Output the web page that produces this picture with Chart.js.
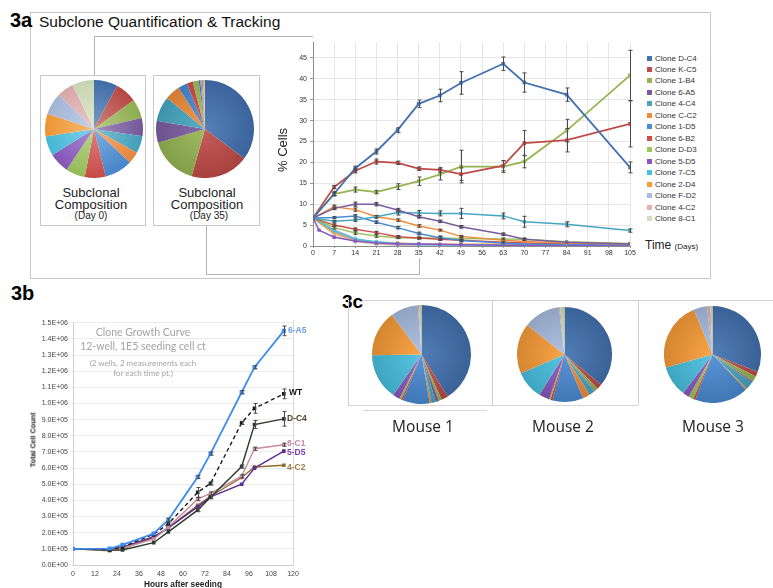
<!DOCTYPE html>
<html>
<head>
<meta charset="utf-8">
<script src="https://cdn.jsdelivr.net/npm/chart.js@4.4.1/dist/chart.umd.min.js"></script>
<style>
  body { margin: 0; background: #fff; font-family: "Liberation Sans", Arial, sans-serif; }
  #page { position: relative; width: 773px; height: 588px; overflow: hidden; background: #fff; }
  .t { position: absolute; line-height: 1; white-space: nowrap; color: #222; }
  .c { transform: translateX(-50%); }
  .ln { position: absolute; background: #b4b4b4; }
  .box { position: absolute; border: 1px solid #c8c8c8; box-sizing: border-box; }
  canvas { position: absolute; }
  .lg { position: absolute; font-size: 8px; line-height: 1; color: #333; white-space: nowrap; }
  .lg i { position: absolute; left: -8px; top: 1px; width: 5px; height: 5px; }
  .glab { position: absolute; font-weight: bold; font-size: 8.5px; line-height: 1; white-space: nowrap; }
  .gt { position: absolute; font-family: Lato, sans-serif; color: #a4a4a4; line-height: 1; white-space: nowrap; transform: translateX(-50%); }
</style>
</head>
<body>
<div id="page">
  <!-- 3a frame -->
  <div class="box" style="left:30px;top:12px;width:681px;height:267px;"></div>
  <div class="t" style="left:10px;top:10px;font-size:20px;font-weight:bold;color:#000;">3a</div>
  <div class="t" style="left:39px;top:14px;font-size:15.5px;color:#111;">Subclone Quantification &amp; Tracking</div>

  <!-- connectors -->
  <div class="ln" style="left:94px;top:36px;width:1px;height:39px;"></div>
  <div class="ln" style="left:94px;top:36px;width:219px;height:1px;"></div>
  <div class="ln" style="left:206px;top:225px;width:1px;height:50px;"></div>
  <div class="ln" style="left:206px;top:274px;width:214px;height:1px;"></div>
  <div class="ln" style="left:419px;top:258px;width:1px;height:17px;"></div>

  <div class="box" style="left:40px;top:75px;width:106px;height:151px;"></div>
  <div class="box" style="left:153px;top:75px;width:107px;height:151px;"></div>
  <canvas id="pieDay0" width="98" height="98" style="left:45px;top:80px;"></canvas>
  <canvas id="pieDay35" width="98" height="98" style="left:156px;top:80px;"></canvas>
  <div class="t c" style="left:91px;top:186px;font-size:13px;">Subclonal</div>
  <div class="t c" style="left:91px;top:198px;font-size:13px;">Composition</div>
  <div class="t c" style="left:91px;top:211px;font-size:10px;">(Day 0)</div>
  <div class="t c" style="left:207px;top:186px;font-size:13px;">Subclonal</div>
  <div class="t c" style="left:207px;top:198px;font-size:13px;">Composition</div>
  <div class="t c" style="left:209px;top:211px;font-size:10px;">(Day 35)</div>

  <canvas id="trackChart" width="370" height="225" style="left:270px;top:37px;"></canvas>
  <div class="t" style="left:282px;top:150px;font-size:13px;transform:translate(-50%,-50%) rotate(-90deg);">% Cells</div>
  <div class="t" style="left:645px;top:239px;font-size:12px;">Time <span style="font-size:8px;">(Days)</span></div>
  <div id="legend3a"></div>

  <!-- 3b -->
  <div class="t" style="left:11px;top:283px;font-size:20px;font-weight:bold;color:#000;">3b</div>
  <div class="ln" style="left:293px;top:320px;width:1px;height:245px;background:#d8d8d8;"></div>
  <canvas id="growthChart" width="281" height="262" style="left:20px;top:317px;"></canvas>
  <div class="t" style="left:33px;top:440px;font-size:7.2px;font-weight:bold;transform:translate(-50%,-50%) rotate(-90deg);">Total Cell Count</div>
  <div class="t c" style="left:183px;top:580px;font-size:8.3px;font-weight:bold;">Hours after seeding</div>
  <div class="gt" style="left:143px;top:327px;font-size:10.5px;">Clone Growth Curve</div>
  <div class="gt" style="left:143px;top:341px;font-size:10.5px;">12-well, 1E5 seeding cell ct</div>
  <div class="gt" style="left:143px;top:359px;font-size:8px;">(2 wells, 2 measurements each</div>
  <div class="gt" style="left:143px;top:369px;font-size:8px;">for each time pt.)</div>
  <div class="glab" style="left:288px;top:326px;color:#6b9fdc;">6-A5</div>
  <div class="glab" style="left:289px;top:388px;color:#111;">WT</div>
  <div class="glab" style="left:287px;top:414px;color:#4d3f2f;">D-C4</div>
  <div class="glab" style="left:287px;top:439px;color:#c78aa5;">8-C1</div>
  <div class="glab" style="left:287px;top:448px;color:#7b3fa8;">5-D5</div>
  <div class="glab" style="left:287px;top:463px;color:#9c7e45;">4-C2</div>

  <!-- 3c -->
  <div class="t" style="left:342px;top:292px;font-size:19px;font-weight:bold;color:#000;">3c</div>
  <div class="ln" style="left:363px;top:300px;width:410px;height:1px;background:#cfcfcf;"></div>
  <div class="ln" style="left:348px;top:300px;width:1px;height:105px;background:#cfcfcf;"></div>
  <div class="ln" style="left:348px;top:405px;width:290px;height:1px;background:#d6d6d6;"></div>
  <div class="ln" style="left:363px;top:410px;width:124px;height:1px;background:#d6d6d6;"></div>
  <div class="ln" style="left:492px;top:300px;width:1px;height:105px;background:#cfcfcf;"></div>
  <div class="ln" style="left:638px;top:300px;width:1px;height:105px;background:#cfcfcf;"></div>
  <canvas id="pieMouse1" width="99" height="99" style="left:372px;top:305px;"></canvas>
  <canvas id="pieMouse2" width="95" height="95" style="left:517px;top:307px;"></canvas>
  <canvas id="pieMouse3" width="97" height="97" style="left:664px;top:306px;"></canvas>
  <div class="t c" style="left:423px;top:419px;font-size:15.5px;font-family:'Open Sans',sans-serif;color:#222;">Mouse 1</div>
  <div class="t c" style="left:563px;top:419px;font-size:15.5px;font-family:'Open Sans',sans-serif;color:#222;">Mouse 2</div>
  <div class="t c" style="left:713px;top:419px;font-size:15.5px;font-family:'Open Sans',sans-serif;color:#222;">Mouse 3</div>
</div>

<script>
Chart.defaults.font.family = '"Liberation Sans", Arial, sans-serif';
Chart.defaults.animation = false;

// --- clone names and colours (3a / 3c) ---
const clones = ['Clone D-C4', 'Clone K-C5', 'Clone 1-B4', 'Clone 6-A5', 'Clone 4-C4', 'Clone C-C2', 'Clone 1-D5',
  'Clone 6-B2', 'Clone D-D3', 'Clone 5-D5', 'Clone 7-C5', 'Clone 2-D4', 'Clone F-D2', 'Clone 4-C2', 'Clone 8-C1'];
const cloneColors = ['#4272b0', '#bf4b48', '#94b552', '#7a5ca0', '#45a7c2', '#f08c3c', '#4a8bd4',
  '#d04e4a', '#9cc45c', '#8a58c0', '#48c0df', '#f89c38', '#a8bde0', '#e2b0b0', '#d2dfba'];

// --- 3a time course (% cells) ---
const days = [0, 7, 14, 21, 28, 35, 42, 49, 63, 70, 84, 105];
const days5D5 = [0, 2, 7, 14, 21, 28, 35, 42, 49, 63, 70, 84, 105];
const pctDC4 = [6.7, 12.5, 18.6, 22.6, 27.7, 34.0, 36.0, 39.0, 43.6, 39.1, 36.2, 18.8];
const pctKC5 = [6.7, 14.1, 18.0, 20.2, 19.9, 18.5, 18.2, 17.2, 19.2, 24.6, 25.3, 29.2];
const pct1B4 = [6.7, 12.4, 13.5, 12.9, 14.2, 15.5, 17.1, 19.0, 19.0, 20.2, 27.6, 40.8];
const pct6A5 = [6.7, 9.0, 10.0, 10.0, 8.6, 7.0, 5.9, 4.6, 2.8, 1.6, 0.9, 0.5];
const pct4C4 = [6.7, 5.9, 6.2, 7.0, 8.0, 7.9, 7.8, 7.8, 7.2, 5.8, 5.2, 3.7];
const pctCC2 = [6.7, 9.4, 8.7, 7.0, 6.2, 4.8, 3.8, 2.3, 1.4, 1.1, 0.7, 0.5];
const pct1D5 = [6.7, 6.8, 7.2, 5.7, 4.4, 3.0, 2.0, 1.3, 0.7, 0.5, 0.4, 0.3];
const pct6B2 = [6.7, 5.0, 4.0, 3.2, 2.2, 1.9, 1.6, 1.4, 0.9, 0.7, 0.5, 0.4];
const pctDD3 = [6.7, 4.4, 3.1, 2.4, 2.0, 1.9, 1.9, 1.8, 1.7, 1.6, 1.0, 0.6];
const pct5D5 = [6.7, 3.8, 2.1, 1.2, 0.7, 0.5, 0.5, 0.4, 0.3, 0.2, 0.2, 0.2, 0.2];
const pct7C5 = [6.7, 3.6, 1.6, 1.0, 0.6, 0.4, 0.3, 0.3, 0.2, 0.2, 0.2, 0.2];
const pct2D4 = [6.7, 3.3, 1.5, 0.9, 0.7, 0.5, 0.4, 0.4, 0.4, 0.3, 0.3, 0.3];
const pctFD2 = [6.7, 3.9, 1.8, 0.8, 0.5, 0.3, 0.2, 0.2, 0.1, 0.1, 0.1, 0.1];
const pct4C2 = [6.7, 3.0, 1.3, 0.6, 0.3, 0.2, 0.2, 0.1, 0.1, 0.1, 0.1, 0.1];
const pct8C1 = [6.7, 2.6, 1.0, 0.4, 0.2, 0.1, 0.1, 0.1, 0.1, 0.1, 0.1, 0.1];

// error bar half-widths
const errDC4 = [0, 0.5, 0.5, 0.6, 0.6, 0.9, 1.5, 2.7, 1.6, 2.3, 1.6, 1.3];
const errKC5 = [0, 0.4, 0.5, 0.6, 0.4, 0.4, 0.6, 1.5, 1.2, 3.0, 2.8, 5.5];
const err1B4 = [0, 0.4, 0.6, 0.4, 0.7, 1.0, 1.3, 3.9, 1.4, 1.5, 2.7, 6.0];
const err6A5 = [0, 0.3, 0.5, 0.4, 0.4, 0.3, 0.3, 0.3, 0.3, 0.3, 0, 0];
const err4C4 = [0, 0.2, 0.3, 0.3, 0.6, 0.6, 0.6, 1.2, 0.7, 1.3, 0.6, 0.4];
const errCC2 = [0, 0.4, 0.4, 0.3, 0.3, 0.3, 0.2, 0.2, 0, 0, 0, 0];
const err1D5 = [0, 0.2, 0.3, 0.3, 0.3, 0.3, 0.3, 0.3, 0, 0, 0, 0];
const err6B2 = [0, 0.3, 0.3, 0.3, 0.3, 0.2, 0.2, 0.2, 0.2, 0, 0, 0];
const errDD3 = [0, 0.3, 0.3, 0.3, 0.2, 0.2, 0.5, 0.4, 0.2, 0.2, 0, 0];

const pctSeries = [pctDC4, pctKC5, pct1B4, pct6A5, pct4C4, pctCC2, pct1D5, pct6B2, pctDD3, pct5D5, pct7C5, pct2D4, pctFD2, pct4C2, pct8C1];
const errSeries = [errDC4, errKC5, err1B4, err6A5, err4C4, errCC2, err1D5, err6B2, errDD3, null, null, null, null, null, null];
const daySeries = pctSeries.map((s, i) => i === 9 ? days5D5 : days);

// Day 0 composition (%)
const compDay0 = [7.8, 7.2, 6.4, 6.0, 5.7, 3.9, 9.2, 6.9, 6.4, 6.7, 6.4, 7.5, 7.2, 5.6, 7.2];
// Day 35 composition comes from the time course
const compDay35 = pctSeries.map((s, i) => s[daySeries[i].indexOf(35)]);

// --- 3c mouse compositions (%) ---
const compMouse1 = [41.0, 2.2, 1.0, 1.0, 1.4, 0.6, 8.8, 0.6, 0.6, 2.3, 15.0, 15.0, 9.0, 0.4, 0.8];
const compMouse2 = [36.3, 1.8, 1.2, 0.3, 1.9, 2.5, 10.5, 0.8, 0.5, 3.6, 9.8, 17.2, 12.6, 0.4, 1.5];
const compMouse3 = [30.8, 1.7, 1.9, 0.5, 2.5, 0.5, 17.8, 0.8, 1.6, 2.2, 10.3, 23.0, 4.5, 1.1, 0.7];

// --- 3b growth curve ---
const hours = [0, 20, 27, 44, 52, 68, 75, 92, 99, 115];
const growthNames = ['6-A5', 'WT', 'D-C4', '8-C1', '5-D5', '4-C2'];
const growthColors = ['#3d8cef', '#1a1a1a', '#2c3a2c', '#c68c9f', '#5c2d90', '#8f6d2e'];
const cnt6A5 = [1.0e5, 1.02e5, 1.25e5, 1.95e5, 2.8e5, 5.45e5, 6.9e5, 10.7e5, 12.25e5, 14.5e5];
const cntWT = [1.0e5, 0.95e5, 1.12e5, 1.9e5, 2.55e5, 4.5e5, 5.05e5, 8.8e5, 9.7e5, 10.6e5];
const cntDC4 = [1.0e5, 0.92e5, 0.93e5, 1.38e5, 2.05e5, 3.4e5, 4.2e5, 6.1e5, 8.7e5, 9.05e5];
const cnt8C1 = [1.0e5, 0.93e5, 1.05e5, 1.6e5, 2.35e5, 4.08e5, 4.43e5, 5.5e5, 7.2e5, 7.45e5];
const cnt5D5 = [1.0e5, 0.97e5, 1.1e5, 1.75e5, 2.3e5, 3.6e5, 4.22e5, 5.0e5, 6.0e5, 7.05e5];
const cnt4C2 = [1.0e5, 0.88e5, 1.0e5, 1.7e5, 2.3e5, 3.7e5, 4.26e5, 5.42e5, 6.07e5, 6.18e5];
const sd6A5 = [0, 0, 0, 0, 0.1e5, 0.1e5, 0.1e5, 0.1e5, 0.1e5, 0.3e5];
const sdWT = [0, 0, 0, 0, 0.1e5, 0.3e5, 0.1e5, 0.1e5, 0.3e5, 0.3e5];
const sdDC4 = [0, 0, 0, 0, 0, 0.1e5, 0.1e5, 0.1e5, 0.25e5, 0.45e5];
const sd8C1 = [0, 0, 0, 0, 0, 0.1e5, 0.1e5, 0.1e5, 0.1e5, 0.1e5];
const growthSeries = [cnt6A5, cntWT, cntDC4, cnt8C1, cnt5D5, cnt4C2];
const growthErr = [sd6A5, sdWT, sdDC4, sd8C1, null, null];

// draws vertical I-bars from dataset.errors
const errorBars = {
  id: 'errorBars',
  afterDatasetsDraw(chart) {
    const ctx = chart.ctx;
    const yScale = chart.scales.y;
    ctx.save();
    ctx.strokeStyle = '#4a4a4a';
    ctx.lineWidth = 1;
    chart.data.datasets.forEach((ds, i) => {
      if (!ds.errors) return;
      const meta = chart.getDatasetMeta(i);
      meta.data.forEach((pt, j) => {
        const e = ds.errors[j];
        if (!e) return;
        const v = ds.data[j].y;
        const x = Math.round(pt.x) + 0.5;
        const top = yScale.getPixelForValue(v + e);
        const bot = yScale.getPixelForValue(v - e);
        ctx.beginPath();
        ctx.moveTo(x, top); ctx.lineTo(x, bot);
        ctx.moveTo(x - 2, top); ctx.lineTo(x + 2, top);
        ctx.moveTo(x - 2, bot); ctx.lineTo(x + 2, bot);
        ctx.stroke();
      });
    });
    ctx.restore();
  }
};

function shade(hex, f) {
  const n = parseInt(hex.slice(1), 16);
  let r = n >> 16, g = (n >> 8) & 255, b = n & 255;
  if (f < 1) { r *= f; g *= f; b *= f; }
  else { const t = f - 1; r += (255 - r) * t; g += (255 - g) * t; b += (255 - b) * t; }
  return 'rgb(' + Math.round(r) + ',' + Math.round(g) + ',' + Math.round(b) + ')';
}

// radial shading like the Excel pies
function pieFill(light, dark) {
  return function(ctx) {
    const c = cloneColors[ctx.dataIndex];
    const area = ctx.chart.chartArea;
    if (!area) return c;
    const cx = (area.left + area.right) / 2, cy = (area.top + area.bottom) / 2;
    const r = Math.min(area.right - area.left, area.bottom - area.top) / 2;
    const g = ctx.chart.ctx.createRadialGradient(cx, cy, 0, cx, cy, r);
    g.addColorStop(0, shade(c, light));
    g.addColorStop(1, shade(c, dark));
    return g;
  };
}

function makePie(id, values, light, dark) {
  new Chart(document.getElementById(id), {
    type: 'pie',
    data: {
      labels: clones,
      datasets: [{ data: values, backgroundColor: pieFill(light, dark), borderWidth: 0 }]
    },
    options: {
      responsive: false,
      layout: { padding: 0 },
      plugins: { legend: { display: false }, tooltip: { enabled: false } }
    }
  });
}

makePie('pieDay0', compDay0, 1.3, 0.95);
makePie('pieDay35', compDay35, 1.1, 0.88);
makePie('pieMouse1', compMouse1, 1.08, 0.86);
makePie('pieMouse2', compMouse2, 1.08, 0.86);
makePie('pieMouse3', compMouse3, 1.08, 0.86);

// 3a legend (html text)
const legend3a = document.getElementById('legend3a');
clones.forEach((name, i) => {
  const d = document.createElement('div');
  d.className = 'lg';
  d.style.left = '655px';
  d.style.top = (54.5 + i * 11.48) + 'px';
  d.innerHTML = '<i style="background:' + cloneColors[i] + '"></i>' + name;
  legend3a.appendChild(d);
});

// 3a time course chart
new Chart(document.getElementById('trackChart'), {
  type: 'line',
  data: {
    datasets: clones.map((name, i) => ({
      label: name,
      data: pctSeries[i].map((v, k) => ({ x: daySeries[i][k], y: v })),
      errors: errSeries[i],
      borderColor: cloneColors[i],
      backgroundColor: cloneColors[i],
      borderWidth: i < 3 ? 1.8 : 1.5,
      pointRadius: 1.3,
      pointStyle: 'rect',
      tension: 0
    }))
  },
  options: {
    responsive: false,
    layout: { padding: { left: 0, right: 10, top: 0, bottom: 0 } },
    plugins: { legend: { display: false }, tooltip: { enabled: false } },
    scales: {
      x: {
        type: 'linear', min: 0, max: 105,
        ticks: { stepSize: 7, font: { size: 7 }, color: '#333', padding: 1, maxRotation: 0, autoSkip: false },
        grid: { color: '#e6e6e6', tickLength: 2, tickColor: '#999' },
        border: { color: '#8c8c8c' },
        afterFit(s) { s.height = 16; s.paddingLeft = 0; s.paddingRight = 0; }
      },
      y: {
        min: 0, max: 48.6,
        ticks: { stepSize: 5, font: { size: 7 }, color: '#333', padding: 3 },
        grid: { color: '#e6e6e6', tickLength: 3, tickColor: '#999' },
        border: { color: '#8c8c8c' },
        afterBuildTicks(s) { s.ticks = s.ticks.filter(t => t.value % 5 === 0); },
        afterFit(s) { s.width = 43; s.paddingTop = 0; s.paddingBottom = 0; }
      }
    }
  },
  plugins: [errorBars]
});

function sciLabel(v) {
  const parts = Number(v).toExponential(1).toUpperCase().split('E');
  const sign = parts[1][0] === '-' ? '-' : '+';
  const exp = parts[1].replace('+', '').replace('-', '').padStart(2, '0');
  return parts[0] + 'E' + sign + exp;
}

// 3b growth curve chart
new Chart(document.getElementById('growthChart'), {
  type: 'line',
  data: {
    datasets: growthNames.map((name, i) => ({
      label: name,
      data: growthSeries[i].map((v, k) => ({ x: hours[k], y: v })),
      errors: growthErr[i],
      borderColor: growthColors[i],
      backgroundColor: growthColors[i],
      borderWidth: i === 0 ? 1.8 : 1.4,
      borderDash: name === 'WT' ? [4, 3] : [],
      pointRadius: 1.6,
      pointStyle: 'rect',
      tension: 0
    }))
  },
  options: {
    responsive: false,
    layout: { padding: { left: 0, right: 8, top: 5, bottom: 0 } },
    plugins: { legend: { display: false }, tooltip: { enabled: false } },
    scales: {
      x: {
        type: 'linear', min: 0, max: 120,
        ticks: { stepSize: 12, font: { size: 7 }, color: '#444', padding: 2, maxRotation: 0, autoSkip: false },
        grid: { display: false, drawTicks: true, tickLength: 3 },
        border: { color: '#cfcfcf' },
        afterFit(s) { s.height = 14; s.paddingLeft = 0; s.paddingRight = 0; }
      },
      y: {
        min: 0, max: 1.5e6,
        ticks: { stepSize: 1e5, font: { size: 7 }, color: '#444', padding: 3, callback: v => sciLabel(v) },
        grid: { color: '#ececec', tickLength: 2 },
        border: { color: '#cfcfcf' },
        afterFit(s) { s.width = 53; s.paddingTop = 0; s.paddingBottom = 0; }
      }
    }
  },
  plugins: [errorBars]
});
</script>
</body>
</html>
